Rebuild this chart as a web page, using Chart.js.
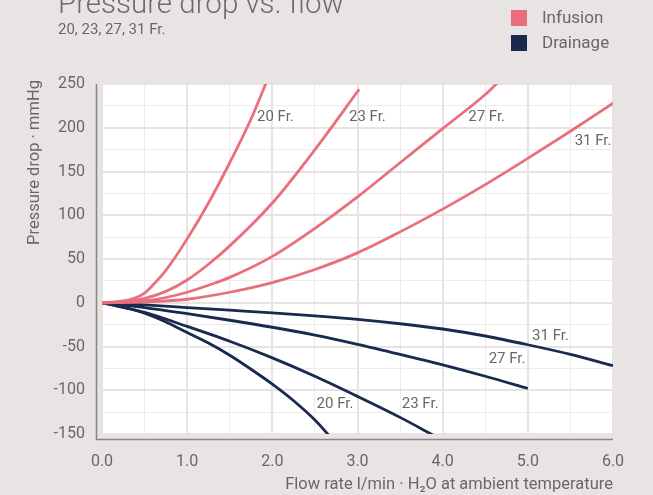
<!DOCTYPE html>
<html><head><meta charset="utf-8">
<script src="https://cdn.jsdelivr.net/npm/chart.js@4.4.1/dist/chart.umd.min.js"></script>
<style>
html,body{margin:0;padding:0;background:#e9e4e4;}
#wrap{width:653px;height:495px;position:relative;}
</style>
</head><body>
<div id="wrap"><canvas id="c"></canvas></div>
<script>
// ---- text ----
const titleText = 'Pressure drop vs. flow';
const subtitleText = '20, 23, 27, 31 Fr.';
const yAxisTitle = 'Pressure drop · mmHg';
const xAxisTitle = 'Flow rate l/min · H\u2082O at ambient temperature';
const groupNames = ['Infusion', 'Drainage'];
const groupColors = ['#e96f7d', '#192a4f'];

// ---- axes ----
const xMin = 0, xMax = 6, xStep = 0.5;
const yMin = -150, yMax = 250, yStep = 25;

// ---- infusion series (flow l/min, pressure mmHg) ----
const infFlow20 = [0, 0.25, 0.375, 0.5, 0.625, 0.75, 1.0, 1.25, 1.5, 1.75, 1.93];
const infP20    = [0, 2, 5, 11, 23, 37, 73, 114, 160, 210, 252];
const infFlow23 = [0, 0.25, 0.5, 0.75, 1.0, 1.25, 1.5, 2.0, 2.5, 3.02];
const infP23    = [0, 1, 5, 13, 26, 44, 65, 114, 175, 244];
const infFlow27 = [0, 0.25, 0.5, 0.75, 1.0, 1.25, 1.5, 2.0, 2.5, 3.0, 3.5, 4.0, 4.5, 4.65];
const infP27    = [0, 0.5, 2, 6, 12, 20, 29, 53, 85, 121, 160, 199, 238, 252];
const infFlow31 = [0, 0.5, 1.0, 1.5, 2.0, 2.5, 3.0, 3.5, 4.0, 4.5, 5.0, 5.5, 6.0];
const infP31    = [0, 1, 4, 12, 23, 38, 57, 81, 107, 135, 165, 196, 228];

// ---- drainage series ----
const drFlow20 = [0, 0.25, 0.5, 0.75, 1.0, 1.25, 1.5, 1.75, 2.0, 2.25, 2.5, 2.66];
const drP20    = [0, -5, -12, -22, -34, -46, -60, -76, -93, -112, -134, -151];
const drFlow23 = [0, 0.5, 1.0, 1.5, 2.0, 2.5, 3.0, 3.5, 3.92];
const drP23    = [0, -11, -27, -44, -63, -84, -107, -131, -153];
const drFlow27 = [0, 0.5, 1.0, 1.5, 2.0, 2.5, 3.0, 3.5, 4.0, 4.5, 5.0];
const drP27    = [0, -5.5, -12.5, -20, -28, -37, -47.5, -59, -71, -84, -98];
const drFlow31 = [0, 0.5, 1.0, 1.5, 2.0, 2.5, 3.0, 3.5, 4.0, 4.5, 5.0, 5.5, 6.0];
const drP31    = [0, -2.5, -5.5, -8.5, -11.5, -15, -19, -24, -30, -38, -48, -59, -72];

// ---- curve labels (data coordinates of label's left/middle) ----
const curveLabels = ['20 Fr.', '23 Fr.', '27 Fr.', '31 Fr.', '31 Fr.', '27 Fr.', '23 Fr.', '20 Fr.'];
const curveLabelX = [1.82, 2.90, 4.30, 5.55, 5.05, 4.54, 3.52, 2.52];
const curveLabelY = [212, 212, 212, 185, -38, -64, -116, -116];

const pts = (xs, ys) => xs.map((x, i) => ({x: x, y: ys[i]}));
function series(label, xs, ys, g) {
  return {label: label, data: pts(xs, ys), borderColor: groupColors[g], backgroundColor: groupColors[g],
    borderWidth: 2.8, pointRadius: 0, pointHoverRadius: 0, fill: false, cubicInterpolationMode: 'monotone'};
}
const datasets = [
  series('Infusion 20 Fr.', infFlow20, infP20, 0),
  series('Infusion 23 Fr.', infFlow23, infP23, 0),
  series('Infusion 27 Fr.', infFlow27, infP27, 0),
  series('Infusion 31 Fr.', infFlow31, infP31, 0),
  series('Drainage 20 Fr.', drFlow20, drP20, 1),
  series('Drainage 23 Fr.', drFlow23, drP23, 1),
  series('Drainage 27 Fr.', drFlow27, drP27, 1),
  series('Drainage 31 Fr.', drFlow31, drP31, 1)
];

const FONT = 'Roboto, "Noto Sans", "Liberation Sans", sans-serif';
const TEXT = '#686868';
const BG = '#e9e4e4';

const decor = {
  id: 'decor',
  beforeDraw(chart) {
    const {ctx, chartArea: a} = chart;
    ctx.save();
    ctx.fillStyle = BG;
    ctx.fillRect(0, 0, chart.width, chart.height);
    ctx.fillStyle = '#ffffff';
    ctx.fillRect(a.left, a.top, a.right - a.left, a.bottom - a.top);
    ctx.restore();
  },
  afterDatasetsDraw(chart) {
    const {ctx, chartArea: a, scales} = chart;
    ctx.save();
    // offset axis lines
    ctx.strokeStyle = '#8c8787';
    ctx.lineWidth = 1.6;
    ctx.beginPath();
    ctx.moveTo(a.left - 5.5, a.top);
    ctx.lineTo(a.left - 5.5, a.bottom + 5.5);
    ctx.lineTo(a.right, a.bottom + 5.5);
    ctx.stroke();
    // curve labels
    ctx.fillStyle = TEXT;
    ctx.font = '15px ' + FONT;
    ctx.textAlign = 'left';
    ctx.textBaseline = 'middle';
    curveLabels.forEach((t, i) => {
      ctx.fillText(t, scales.x.getPixelForValue(curveLabelX[i]), scales.y.getPixelForValue(curveLabelY[i]));
    });
    // y axis title, rotated, ending near the top of the plot
    ctx.save();
    ctx.translate(35, a.top - 4);
    ctx.rotate(-Math.PI / 2);
    ctx.font = '16.5px ' + FONT;
    ctx.textAlign = 'right';
    ctx.textBaseline = 'middle';
    ctx.fillText(yAxisTitle, 0, 0);
    ctx.restore();
    ctx.restore();
  },
  afterDraw(chart) {
    const {ctx} = chart;
    ctx.save();
    ctx.fillStyle = '#6c6c6c';
    ctx.textAlign = 'left';
    ctx.textBaseline = 'alphabetic';
    ctx.font = '300 29.5px ' + FONT;
    ctx.fillText(titleText, 58, 12.5);
    ctx.fillStyle = TEXT;
    ctx.font = '15px ' + FONT;
    ctx.fillText(subtitleText, 58, 34.3);
    // legend
    ctx.font = '17px ' + FONT;
    ctx.textBaseline = 'middle';
    groupNames.forEach((n, i) => {
      const y = 10 + i * 25;
      ctx.fillStyle = groupColors[i];
      ctx.fillRect(511, y, 16, 16);
      ctx.fillStyle = TEXT;
      ctx.fillText(n, 542, y + 8.5);
    });
    ctx.restore();
  }
};

Chart.defaults.font.family = FONT;
Chart.defaults.color = TEXT;

new Chart(document.getElementById('c'), {
  type: 'line',
  data: {datasets: datasets},
  options: {
    responsive: true,
    maintainAspectRatio: false,
    devicePixelRatio: 1,
    animation: false,
    events: [],
    layout: {padding: {top: 84, right: 40, bottom: 0, left: 0}},
    plugins: {legend: {display: false}, title: {display: false}, tooltip: {enabled: false}},
    scales: {
      x: {
        type: 'linear', min: xMin, max: xMax,
        afterFit(s) { s.height = 61; },
        border: {display: false},
        grid: {
          drawTicks: false,
          color: (c) => (c.tick && Number.isInteger(c.tick.value)) ? '#e8e2e2' : '#efebeb',
          lineWidth: (c) => (c.tick && Number.isInteger(c.tick.value)) ? 2 : 1
        },
        ticks: {
          stepSize: xStep, autoSkip: false, maxRotation: 0, padding: 18,
          font: {size: 16}, color: TEXT,
          callback: (v) => Number.isInteger(v) ? v.toFixed(1) : ''
        },
        title: {display: true, text: xAxisTitle, align: 'end', color: TEXT,
          font: {size: 16.5}, padding: {top: 0, bottom: 0}}
      },
      y: {
        type: 'linear', min: yMin, max: yMax,
        afterFit(s) { s.width = 102; },
        border: {display: false},
        grid: {
          drawTicks: false,
          color: (c) => (c.tick && c.tick.value % 50 === 0) ? '#e8e2e2' : '#efebeb',
          lineWidth: (c) => (c.tick && c.tick.value % 50 === 0) ? 2 : 1
        },
        ticks: {
          stepSize: yStep, autoSkip: false, padding: 17,
          font: {size: 16}, color: TEXT,
          callback: (v) => (v % 50 === 0) ? String(v) : ''
        },
        title: {display: false}
      }
    }
  },
  plugins: [decor]
});
</script>
</body></html>
